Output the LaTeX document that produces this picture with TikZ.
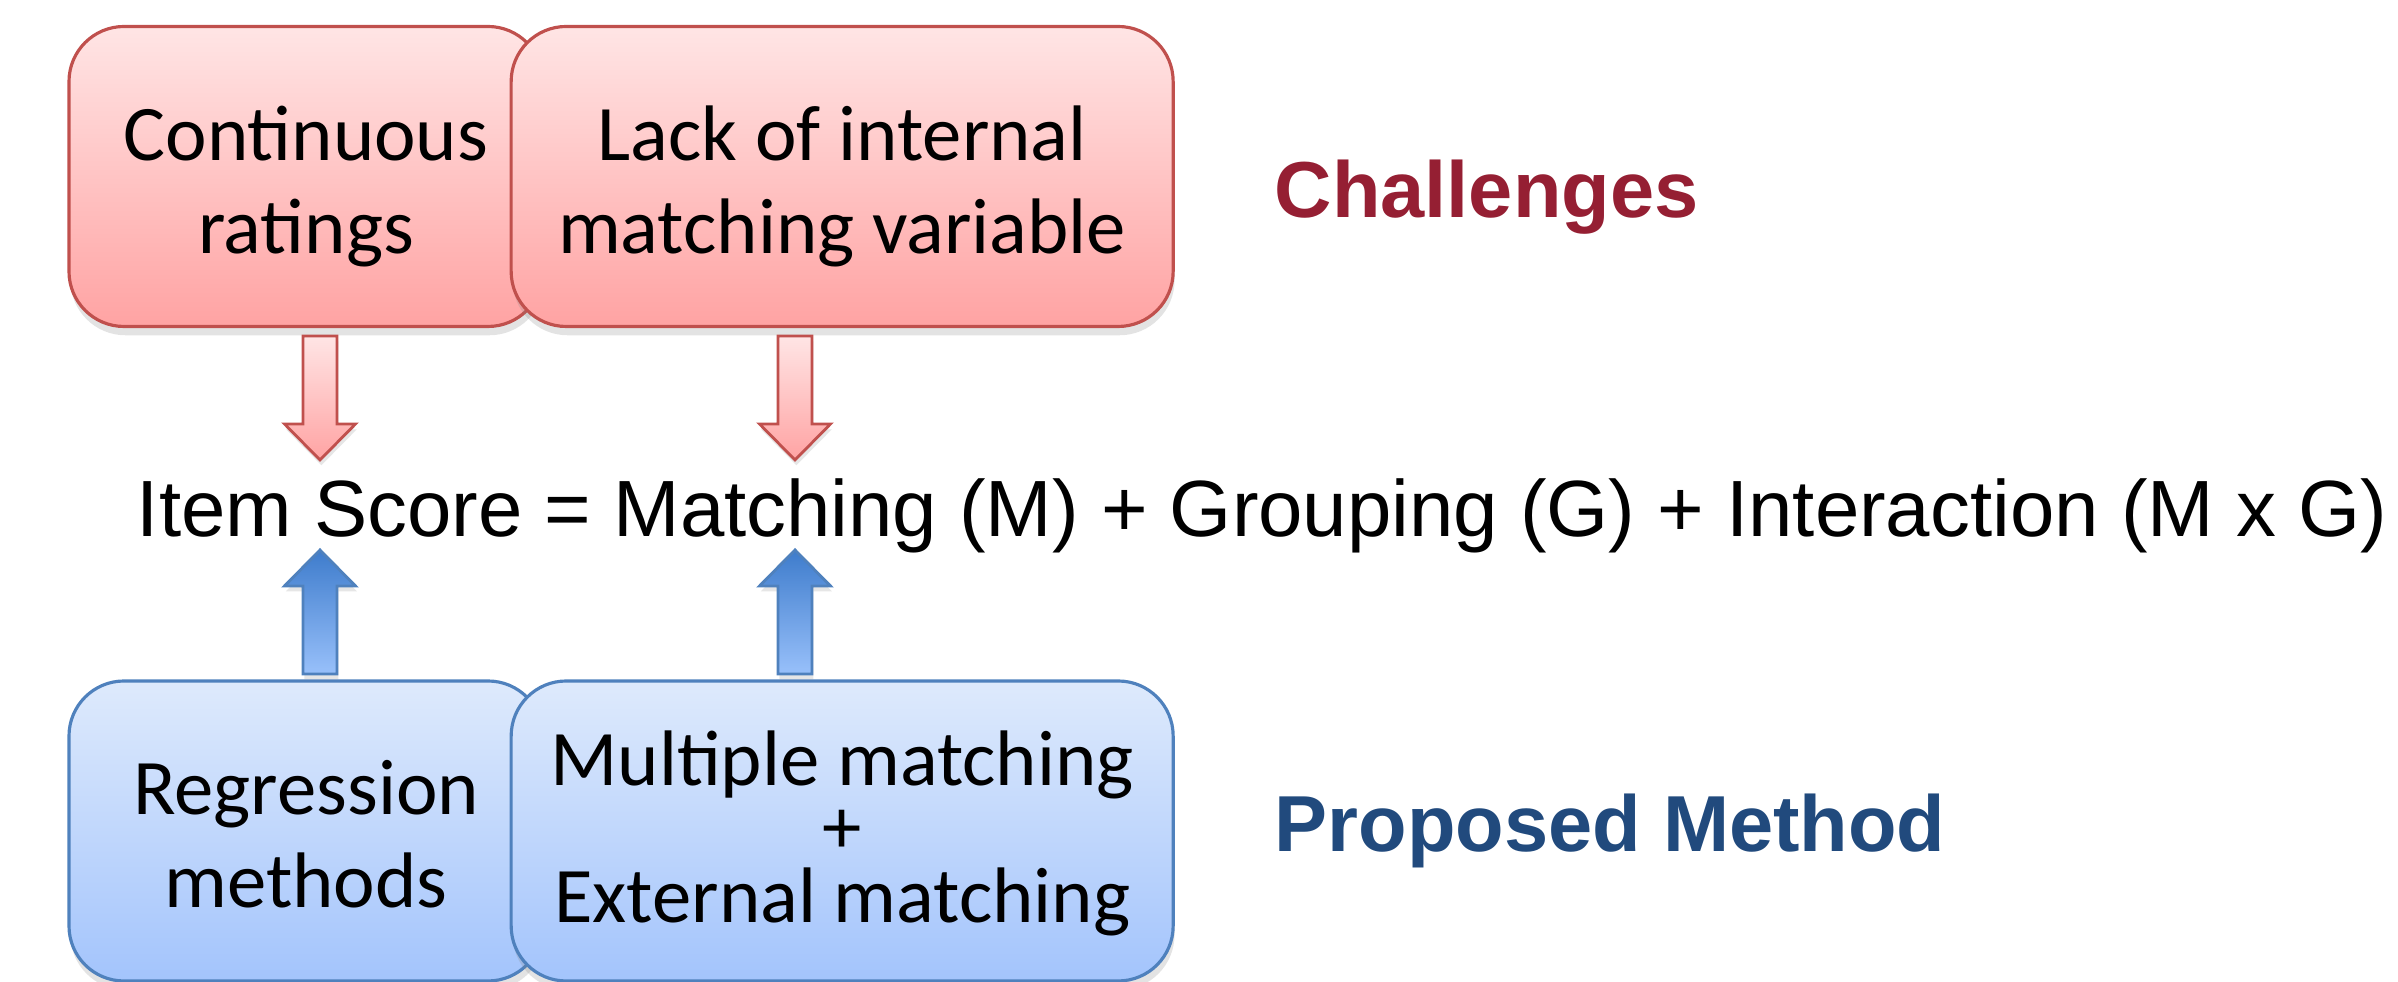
\documentclass[tikz,border=0pt]{standalone}
\usepackage{fontspec}
\setmainfont{Liberation Sans}
\newfontfamily\calibri{Carlito}
\usepackage{xcolor}
\usepackage{tikz}
\usetikzlibrary{calc,positioning,shadows}

\definecolor{chalred}{RGB}{149,31,51}
\definecolor{propblue}{RGB}{33,74,125}
\definecolor{redline}{RGB}{192,80,77}
\definecolor{redtop}{RGB}{255,229,229}
\definecolor{redbot}{RGB}{255,163,163}
\definecolor{blueline}{RGB}{79,129,189}
\definecolor{bluetop}{RGB}{222,234,252}
\definecolor{bluebot}{RGB}{163,196,252}
\definecolor{arrowdark}{RGB}{62,124,204}
\definecolor{arrowlight}{RGB}{152,192,250}

% line struts, so that the lines sit as in a text box
\newcommand{\tstrut}[1][0.98em]{\rule{0pt}{#1}}
\newcommand{\bstrut}{\rule[-0.21em]{0pt}{0.21em}}

% block arrow: style, from, tip
\newcommand{\blockarrow}[3]{%
  \draw [#1] let \p1 = (#2), \p2 = (#3), \p3 = ($(#3)!0.36cm!(#2)$) in
    (\x1-0.17cm,\y1) -- (\x1-0.17cm,\y3) -- (\x1-0.355cm,\y3) -- (\x1,\y2)
    -- (\x1+0.355cm,\y3) -- (\x1+0.17cm,\y3) -- (\x1+0.17cm,\y1) -- cycle;}

\begin{document}
\begin{tikzpicture}[
    node distance=5mm,
    box/.style={
        % The shape:
        rounded corners=0.55cm,
        minimum height=3cm,
        line width=0.9pt,
        align=center,
        drop shadow={shadow xshift=0.4pt,shadow yshift=-2.5pt,opacity=0.22},
        % The font
        font=\calibri\fontsize{22.4}{26.5}\selectfont},
    challenge/.style={box,draw=redline,top color=redtop,bottom color=redbot},
    method/.style={box,draw=blueline,top color=bluetop,bottom color=bluebot},
    heading/.style={anchor=base west,inner sep=0pt,
        font=\bfseries\fontsize{22.6}{26}\selectfont},
    downarrow/.style={draw=redline,line width=0.8pt,line join=miter,
        top color=redtop,bottom color=redbot,
        drop shadow={shadow xshift=0.4pt,shadow yshift=-1.5pt,opacity=0.2}},
    uparrow/.style={draw=blueline,line width=0.8pt,line join=miter,
        top color=arrowdark,bottom color=arrowlight,
        drop shadow={shadow xshift=0.4pt,shadow yshift=-1.5pt,opacity=0.2}}
  ]
  \useasboundingbox (0,0) rectangle (23.98,9.82);

  % challenges row
  \node (cont) [challenge,minimum width=4.74cm] at (3.06,8.055) {\tstrut Continuous\\ratings\bstrut};
  \node (lack) [challenge,minimum width=6.62cm,right=-0.35cm of cont] {\tstrut Lack of internal\\matching variable\bstrut};
  \node (chal) [heading,text=chalred] at (12.74,7.64) {Challenges};

  % the model
  \node (eq) [anchor=base,inner sep=0pt,font=\fontsize{22.7}{28}\selectfont] at (12.62,4.45)
    {Item Score = Matching (M) + Grouping (G) + Interaction (M x G)};

  % proposed methods row
  \node (regr) [method,minimum width=4.74cm] at (3.06,1.51) {\tstrut Regression\\methods\bstrut};
  \node (multi) [method,minimum width=6.62cm,right=-0.35cm of regr,
    font=\calibri\fontsize{22.4}{19.5}\selectfont]
    {\tstrut[0.79em]Multiple matching\\+\\External matching\bstrut};
  \node (prop) [heading,text=propblue] at (12.74,1.30) {Proposed Method};

  % arrow ends
  \coordinate (cont arrow) at (3.20,6.46);
  \coordinate (score tip) at (3.20,5.22);
  \coordinate (lack arrow) at (7.95,6.46);
  \coordinate (match tip) at (7.95,5.22);
  \coordinate (regr arrow) at (3.20,3.08);
  \coordinate (score foot) at (3.20,4.32);
  \coordinate (multi arrow) at (7.95,3.08);
  \coordinate (match foot) at (7.95,4.32);

  \blockarrow{downarrow}{cont arrow}{score tip}
  \blockarrow{downarrow}{lack arrow}{match tip}
  \blockarrow{uparrow}{regr arrow}{score foot}
  \blockarrow{uparrow}{multi arrow}{match foot}
\end{tikzpicture}
\end{document}
